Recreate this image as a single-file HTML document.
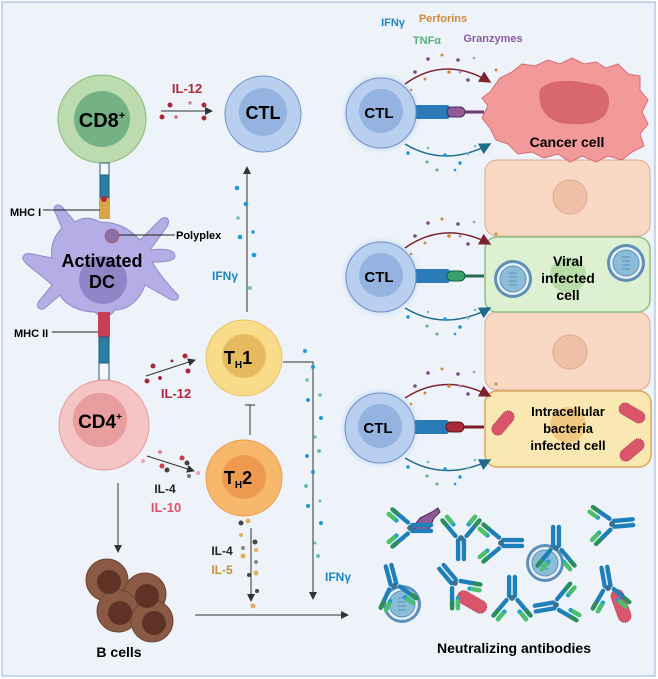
<!DOCTYPE html>
<html><head><meta charset="utf-8"><style>
html,body{margin:0;padding:0;background:#fff}
svg{display:block}
text{font-family:"Liberation Sans",sans-serif;font-weight:bold}
</style></head><body>
<svg width="658" height="679" viewBox="0 0 658 679" xmlns="http://www.w3.org/2000/svg">
<defs>
<g id="ab">
<rect x="-3.5" y="0" width="3" height="16" rx="1.5" fill="#1f7fb8"/>
<rect x="0.5" y="0" width="3" height="16" rx="1.5" fill="#1f7fb8"/>
<g transform="rotate(-40)"><rect x="-3.5" y="-18" width="3" height="16" rx="1.5" fill="#1f7fb8"/><rect x="0.5" y="-18" width="3" height="9" rx="1.5" fill="#1f9fd0"/><rect x="0.5" y="-19" width="3" height="8" rx="1.5" fill="#4bbf6a"/><rect x="-3.5" y="-19" width="3" height="7" rx="1.5" fill="#2a8f5a"/></g>
<g transform="rotate(40)"><rect x="0.5" y="-18" width="3" height="16" rx="1.5" fill="#1f7fb8"/><rect x="-3.5" y="-18" width="3" height="9" rx="1.5" fill="#1f9fd0"/><rect x="-3.5" y="-19" width="3" height="8" rx="1.5" fill="#4bbf6a"/><rect x="0.5" y="-19" width="3" height="7" rx="1.5" fill="#2a8f5a"/></g>
<circle r="2" fill="#3b6f8f"/>
</g>
<g id="virus">
<circle r="19" fill="#5d8fb8"/>
<circle r="16" fill="#e8f0f6"/>
<circle r="13" fill="#8bbcd8" stroke="#5d8fb8"/>
<path d="M-4 -6h8M-4 -2h8M-4 2h8M-4 6h8" stroke="#5d8fb8" stroke-width="1"/>
</g>
<marker id="ar" markerWidth="8" markerHeight="8" refX="7" refY="4" orient="auto"><path d="M0 0L8 4L0 8z" fill="#333"/></marker>
<marker id="arR" markerWidth="8" markerHeight="8" refX="7" refY="4" orient="auto"><path d="M0 0L8 4L0 8z" fill="#7b2430"/></marker>
<marker id="arB" markerWidth="8" markerHeight="8" refX="7" refY="4" orient="auto"><path d="M0 0L8 4L0 8z" fill="#1e6a8a"/></marker>
<radialGradient id="glow"><stop offset="0.75" stop-color="#9fc8f0" stop-opacity="0.7"/><stop offset="1" stop-color="#eef3f9" stop-opacity="0"/></radialGradient>
</defs>
<rect x="0" y="0" width="658" height="679" fill="#fff"/>
<rect x="2" y="2" width="653" height="674" fill="#eef3f9" stroke="#b8c9e6" stroke-width="1.5"/>

<!-- CD8 -->
<circle cx="102" cy="119" r="44" fill="#bcdcb0" stroke="#88b87a"/>
<circle cx="102" cy="119" r="28" fill="#74b285"/>
<text x="102" y="127" font-size="20" text-anchor="middle">CD8<tspan font-size="11" dy="-8">+</tspan></text>
<!-- TCR CD8 -->
<rect x="100" y="163" width="9" height="12" fill="#f4f8fb" stroke="#2b5a78"/>
<rect x="100" y="175" width="9" height="23" fill="#2b7fa3" stroke="#1c5a78"/>
<rect x="99" y="198" width="11" height="21" fill="#d9a445"/>
<circle cx="104" cy="199" r="3" fill="#b0273a"/>
<!-- DC -->
<g fill="#b5aee6" stroke="#8f88c8" stroke-width="1">
<path d="M100 222 C120 222 130 230 140 240 L160 220 C166 214 172 220 166 228 L150 250 C165 248 175 250 175 256 C175 262 160 262 152 262 C160 275 168 285 178 295 C180 300 174 302 168 298 L145 285 C140 300 128 310 115 310 C110 318 100 318 95 312 C80 312 65 305 60 295 L45 308 C40 312 34 306 40 300 L52 285 C42 275 30 268 25 262 C20 258 24 252 32 254 L52 258 C50 245 55 235 62 228 L55 212 C52 206 58 202 63 208 L75 222 C84 216 92 218 100 222 Z"/>
</g>
<circle cx="103" cy="280" r="24" fill="#8f86c8"/>
<text x="102" y="267" font-size="18" text-anchor="middle">Activated</text>
<text x="102" y="288" font-size="18" text-anchor="middle">DC</text>
<circle cx="112" cy="236" r="7" fill="#8a6fa8" stroke="#c04050" stroke-dasharray="1 1"/>
<line x1="43" y1="210" x2="100" y2="210" stroke="#222" stroke-width="1"/>
<text x="10" y="216" font-size="11">MHC I</text>
<line x1="119" y1="235" x2="175" y2="235" stroke="#222" stroke-width="1"/>
<text x="176" y="239" font-size="11">Polyplex</text>
<!-- MHC II / TCR CD4 -->
<rect x="98" y="312" width="12" height="25" fill="#c83f55"/>
<rect x="99" y="337" width="10" height="26" fill="#2b7fa3" stroke="#1c5a78"/>
<rect x="99" y="363" width="10" height="17" fill="#f4f8fb" stroke="#2b5a78"/>
<line x1="52" y1="332" x2="98" y2="332" stroke="#222"/>
<text x="14" y="337" font-size="11">MHC II</text>
<!-- CD4 -->
<circle cx="104" cy="425" r="45" fill="#f5c4c4" stroke="#e39a9a"/>
<circle cx="100" cy="420" r="27" fill="#e89e9e"/>
<text x="100" y="428" font-size="19" text-anchor="middle">CD4<tspan font-size="10" dy="-8">+</tspan></text>

<!-- IL-12 top -->
<text x="187" y="93" font-size="13" fill="#b0273a" text-anchor="middle">IL-12</text>
<line x1="161" y1="111" x2="212" y2="111" stroke="#333" marker-end="url(#ar)"/>
<g fill="#a82a3a"><circle cx="170" cy="105" r="2.5"/><circle cx="162" cy="117" r="2.5"/><circle cx="176" cy="117" r="1.8" fill="#d07080"/><circle cx="190" cy="103" r="1.8" fill="#d09090"/><circle cx="204" cy="105" r="2.5"/><circle cx="204" cy="118" r="2.5"/></g>
<!-- CTL top -->
<circle cx="263" cy="114" r="38" fill="#b9cff0" stroke="#6f8fc5"/>
<circle cx="263" cy="112" r="24" fill="#95b3e0"/>
<text x="263" y="119" font-size="18" text-anchor="middle">CTL</text>
<line x1="247" y1="312" x2="247" y2="167" stroke="#333" marker-end="url(#ar)"/>
<g fill="#1e9ad0"><circle cx="237" cy="188" r="2.3"/><circle cx="246" cy="204" r="2.3"/><circle cx="238" cy="218" r="1.8" fill="#6fc0b0"/><circle cx="253" cy="232" r="1.8"/><circle cx="240" cy="237" r="2.3"/><circle cx="254" cy="255" r="2.3"/><circle cx="250" cy="288" r="2" fill="#6fc0b0"/></g>
<text x="225" y="280" font-size="12" fill="#1e86c0" text-anchor="middle">IFNγ</text>

<!-- TH1 -->
<circle cx="244" cy="358" r="38" fill="#f8dc8a" stroke="#e8c060"/>
<circle cx="244" cy="356" r="22" fill="#e6bb60"/>
<text x="238" y="364" font-size="18" text-anchor="middle">T<tspan font-size="10" dy="4">H</tspan><tspan dy="-4">1</tspan></text>
<!-- TH2 -->
<circle cx="244" cy="478" r="38" fill="#f7b86c" stroke="#ea9a48"/>
<circle cx="244" cy="477" r="22" fill="#ee9a4e"/>
<text x="238" y="484" font-size="18" text-anchor="middle">T<tspan font-size="10" dy="4">H</tspan><tspan dy="-4">2</tspan></text>
<line x1="250" y1="435" x2="250" y2="405" stroke="#333"/>
<line x1="245" y1="405" x2="255" y2="405" stroke="#333"/>
<!-- CD4 arrows -->
<line x1="146" y1="376" x2="195" y2="360" stroke="#333" marker-end="url(#ar)"/>
<g fill="#a82a3a"><circle cx="153" cy="366" r="2.5"/><circle cx="185" cy="356" r="2.5"/><circle cx="147" cy="381" r="2.5"/><circle cx="160" cy="378" r="2"/><circle cx="188" cy="371" r="2.5"/><circle cx="172" cy="361" r="1.5"/></g>
<text x="176" y="398" font-size="13" fill="#b0273a" text-anchor="middle">IL-12</text>
<line x1="147" y1="456" x2="194" y2="471" stroke="#333" marker-end="url(#ar)"/>
<g><circle cx="160" cy="452" r="2" fill="#e08090"/><circle cx="162" cy="466" r="2.5" fill="#c83f55"/><circle cx="167" cy="470" r="2.5" fill="#444"/><circle cx="182" cy="458" r="2.5" fill="#c83f55"/><circle cx="187" cy="463" r="2.5" fill="#444"/><circle cx="189" cy="476" r="2" fill="#777"/><circle cx="143" cy="461" r="2" fill="#f0a0b0"/><circle cx="198" cy="473" r="2" fill="#f0a0b0"/></g>
<text x="165" y="493" font-size="12" text-anchor="middle" fill="#222">IL-4</text>
<text x="166" y="512" font-size="13" text-anchor="middle" fill="#e0506a">IL-10</text>
<line x1="118" y1="483" x2="118" y2="552" stroke="#333" marker-end="url(#ar)"/>
<!-- B cells -->
<g fill="#8b5a45" stroke="#6e4433">
<circle cx="107" cy="580" r="21"/><circle cx="145" cy="594" r="21"/><circle cx="118" cy="611" r="21"/><circle cx="152" cy="621" r="21"/>
</g>
<g fill="#5e3325"><circle cx="109" cy="582" r="12"/><circle cx="147" cy="596" r="12"/><circle cx="120" cy="613" r="12"/><circle cx="154" cy="623" r="12"/></g>
<text x="119" y="657" font-size="14" text-anchor="middle">B cells</text>
<line x1="195" y1="615" x2="348" y2="615" stroke="#333" marker-end="url(#ar)"/>
<!-- TH2 down -->
<line x1="251" y1="528" x2="251" y2="601" stroke="#333" marker-end="url(#ar)"/>
<g><circle cx="241" cy="523" r="2.5" fill="#444"/><circle cx="248" cy="521" r="2.5" fill="#e0b060"/><circle cx="241" cy="535" r="2" fill="#e0b060"/><circle cx="255" cy="542" r="2.5" fill="#444"/><circle cx="243" cy="548" r="2" fill="#888"/><circle cx="256" cy="550" r="2" fill="#e0b060"/><circle cx="243" cy="556" r="2.5" fill="#e0b060"/><circle cx="256" cy="562" r="2" fill="#888"/><circle cx="256" cy="573" r="2.5" fill="#e0b060"/><circle cx="249" cy="575" r="2" fill="#444"/><circle cx="257" cy="591" r="2" fill="#444"/><circle cx="253" cy="606" r="2.5" fill="#e0b060"/></g>
<text x="222" y="555" font-size="12" text-anchor="middle" fill="#222">IL-4</text>
<text x="222" y="574" font-size="12" text-anchor="middle" fill="#c89030">IL-5</text>
<!-- TH1 to right -->
<polyline points="283,362 313,362 313,599" fill="none" stroke="#333" marker-end="url(#ar)"/>
<g fill="#1e9ad0"><circle cx="305" cy="351" r="2"/><circle cx="313" cy="367" r="2"/><circle cx="307" cy="380" r="1.8" fill="#6fc0b0"/><circle cx="320" cy="395" r="1.8" fill="#6fc0b0"/><circle cx="308" cy="400" r="2"/><circle cx="321" cy="418" r="2"/><circle cx="315" cy="437" r="1.8" fill="#6fc0b0"/><circle cx="319" cy="451" r="2" fill="#6fc0b0"/><circle cx="307" cy="456" r="2"/><circle cx="313" cy="472" r="2"/><circle cx="306" cy="486" r="2" fill="#6fc0b0"/><circle cx="320" cy="501" r="1.5" fill="#6fc0b0"/><circle cx="308" cy="506" r="2"/><circle cx="321" cy="523" r="2"/><circle cx="315" cy="543" r="1.5" fill="#6fc0b0"/><circle cx="318" cy="556" r="2" fill="#6fc0b0"/></g>
<text x="338" y="581" font-size="12" fill="#1e86c0" text-anchor="middle">IFNγ</text>

<!-- right top labels -->
<text x="393" y="26" font-size="11" fill="#1e86c0" text-anchor="middle">IFNγ</text>
<text x="443" y="22" font-size="11" fill="#d08a40" text-anchor="middle">Perforins</text>
<text x="427" y="44" font-size="11" fill="#58b07a" text-anchor="middle">TNFα</text>
<text x="493" y="42" font-size="11" fill="#8a5aa0" text-anchor="middle">Granzymes</text>

<!-- tissue cells -->
<rect x="485" y="160" width="165" height="76" rx="12" fill="#f9d8c4" stroke="#dfa890"/>
<circle cx="570" cy="197" r="17" fill="#f0c0a8" stroke="#e0a890"/>
<rect x="485" y="312" width="165" height="78" rx="12" fill="#f9d8c4" stroke="#dfa890"/>
<circle cx="570" cy="352" r="17" fill="#f0c0a8" stroke="#e0a890"/>
<rect x="485" y="237" width="165" height="75" rx="12" fill="#def0d2" stroke="#8fbf80" stroke-width="1.5"/>
<circle cx="568" cy="275" r="18" fill="#b8dca8"/>
<rect x="485" y="391" width="166" height="76" rx="12" fill="#f9e8b2" stroke="#d9a860" stroke-width="1.5"/>
<circle cx="568" cy="425" r="18" fill="#f0c880"/>
<!-- cancer cell -->
<path d="M490 92 L500 78 L512 72 L522 64 L535 66 L548 60 L560 64 L572 58 L584 64 L596 62 L606 68 L618 64 L628 74 L640 76 L640 90 L648 100 L642 112 L648 124 L640 134 L644 146 L632 152 L622 160 L608 156 L596 162 L582 156 L570 162 L558 154 L544 158 L532 152 L518 154 L508 144 L496 140 L490 128 L482 118 L488 106 L482 98 Z" fill="#f29a9a" stroke="#d86a70"/>
<path d="M540 90 C548 78 575 80 590 84 C605 84 612 96 608 108 C606 120 590 126 570 124 C552 124 536 112 540 90Z" fill="#d8686c"/>
<text x="567" y="147" font-size="14" text-anchor="middle">Cancer cell</text>
<text x="568" y="266" font-size="14" text-anchor="middle">Viral</text>
<text x="568" y="283" font-size="14" text-anchor="middle">infected</text>
<text x="568" y="300" font-size="14" text-anchor="middle">cell</text>
<use href="#virus" transform="translate(513,279)"/>
<use href="#virus" transform="translate(626,263)"/>
<text x="568" y="416" font-size="13" text-anchor="middle">Intracellular</text>
<text x="568" y="433" font-size="13" text-anchor="middle">bacteria</text>
<text x="568" y="450" font-size="13" text-anchor="middle">infected cell</text>
<g fill="#d9566a" stroke="#b03048" stroke-dasharray="1 1">
<rect x="-14" y="-6" width="28" height="12" rx="6" transform="translate(503,423) rotate(-50)"/>
<rect x="-14" y="-6" width="28" height="12" rx="6" transform="translate(632,413) rotate(30)"/>
<rect x="-14" y="-6" width="28" height="12" rx="6" transform="translate(632,450) rotate(-40)"/>
</g>

<!-- CTLs right -->
<circle cx="381" cy="113" r="43" fill="url(#glow)"/>
<rect x="414" y="105" width="36" height="14" rx="3" fill="#2a7cb8"/>
<circle cx="381" cy="113" r="35" fill="#b9cff0" stroke="#6f8fc5"/>
<circle cx="381" cy="111" r="22" fill="#95b3e0"/>
<text x="379" y="118" font-size="15" text-anchor="middle">CTL</text>
<rect x="447" y="107" width="18" height="10" rx="5" fill="#8e5a98" stroke="#4a2a50"/>
<line x1="465" y1="112" x2="484" y2="112" stroke="#6a3a70" stroke-width="3"/>
<circle cx="381" cy="277" r="43" fill="url(#glow)"/>
<rect x="414" y="269" width="36" height="14" rx="3" fill="#2a7cb8"/>
<circle cx="381" cy="277" r="35" fill="#b9cff0" stroke="#6f8fc5"/>
<circle cx="381" cy="275" r="22" fill="#95b3e0"/>
<text x="379" y="282" font-size="15" text-anchor="middle">CTL</text>
<rect x="447" y="271" width="18" height="10" rx="5" fill="#3aa070" stroke="#1c5a40"/>
<line x1="465" y1="276" x2="484" y2="276" stroke="#2a6a50" stroke-width="3"/>
<circle cx="380" cy="428" r="43" fill="url(#glow)"/>
<rect x="413" y="420" width="36" height="14" rx="3" fill="#2a7cb8"/>
<circle cx="380" cy="428" r="35" fill="#b9cff0" stroke="#6f8fc5"/>
<circle cx="380" cy="426" r="22" fill="#95b3e0"/>
<text x="378" y="433" font-size="15" text-anchor="middle">CTL</text>
<rect x="446" y="422" width="18" height="10" rx="5" fill="#a82a3a" stroke="#601820"/>
<line x1="464" y1="427" x2="484" y2="427" stroke="#801c28" stroke-width="3"/>

<!-- arcs -->
<g fill="none" stroke-width="1.5">
<path d="M405 84 Q445 55 490 82" stroke="#7b2430" marker-end="url(#arR)"/>
<path d="M405 144 Q445 168 490 144" stroke="#1e6a8a" marker-end="url(#arB)"/>
<path d="M405 248 Q445 220 490 244" stroke="#7b2430" marker-end="url(#arR)"/>
<path d="M405 308 Q445 332 490 308" stroke="#1e6a8a" marker-end="url(#arB)"/>
<path d="M405 398 Q445 372 490 396" stroke="#7b2430" marker-end="url(#arR)"/>
<path d="M405 458 Q445 482 490 460" stroke="#1e6a8a" marker-end="url(#arB)"/>
</g>
<g id="dots1">
<circle cx="428" cy="59" r="1.8" fill="#7a4a8a"/><circle cx="442" cy="55" r="1.5" fill="#d08a40"/><circle cx="458" cy="60" r="1.8" fill="#7a4a8a"/><circle cx="474" cy="58" r="1.3" fill="#b090c0"/><circle cx="415" cy="72" r="1.8" fill="#7a4a8a"/><circle cx="425" cy="79" r="1.5" fill="#d08a40"/><circle cx="449" cy="72" r="1.8" fill="#d08a40"/><circle cx="460" cy="72" r="1.5" fill="#b090c0"/><circle cx="468" cy="80" r="1.8" fill="#7a4a8a"/><circle cx="496" cy="70" r="1.5" fill="#d08a40"/><circle cx="411" cy="90" r="1.3" fill="#d08a40"/>
<circle cx="408" cy="153" r="1.8" fill="#1e9ad0"/><circle cx="427" cy="162" r="1.5" fill="#58b07a"/><circle cx="445" cy="155" r="1.8" fill="#1e9ad0"/><circle cx="460" cy="163" r="1.8" fill="#1e9ad0"/><circle cx="468" cy="154" r="1.5" fill="#6fc0b0"/><circle cx="437" cy="170" r="1.5" fill="#58b07a"/><circle cx="455" cy="170" r="1.3" fill="#1e9ad0"/><circle cx="428" cy="148" r="1.3" fill="#6fc0b0"/><circle cx="475" cy="146" r="1.3" fill="#6fc0b0"/>
</g>
<use href="#dots1" transform="translate(0,164)"/>
<use href="#dots1" transform="translate(0,314)"/>

<!-- antibodies -->
<use href="#virus" transform="translate(545,563)"/>
<use href="#virus" transform="translate(402,604)"/>
<g fill="#d9566a" stroke="#b03048" stroke-dasharray="1 1">
<rect x="-16" y="-6.5" width="32" height="13" rx="6.5" transform="translate(472,602) rotate(30)"/>
<rect x="-17" y="-6.5" width="34" height="13" rx="6.5" transform="translate(621,606) rotate(70)"/>
</g>
<path d="M412 528 L420 518 L432 512 L438 508 L440 512 L434 518 L428 532 Z" fill="#8e5a98" stroke="#4a2a50"/>
<use href="#ab" transform="translate(410,528) rotate(-90) scale(1.45)"/>
<use href="#ab" transform="translate(461,538) scale(1.45)"/>
<use href="#ab" transform="translate(501,543) rotate(-90) scale(1.45)"/>
<use href="#ab" transform="translate(556,548) rotate(180) scale(1.45)"/>
<use href="#ab" transform="translate(612,524) rotate(-95) scale(1.45)"/>
<use href="#ab" transform="translate(394,586) rotate(165) scale(1.45)"/>
<use href="#ab" transform="translate(455,583) rotate(140) scale(1.45)"/>
<use href="#ab" transform="translate(512,598) rotate(180) scale(1.45)"/>
<use href="#ab" transform="translate(556,605) rotate(80) scale(1.45)"/>
<use href="#ab" transform="translate(608,588) rotate(170) scale(1.45)"/>
<text x="514" y="653" font-size="14" text-anchor="middle">Neutralizing antibodies</text>
</svg>
</body></html>
